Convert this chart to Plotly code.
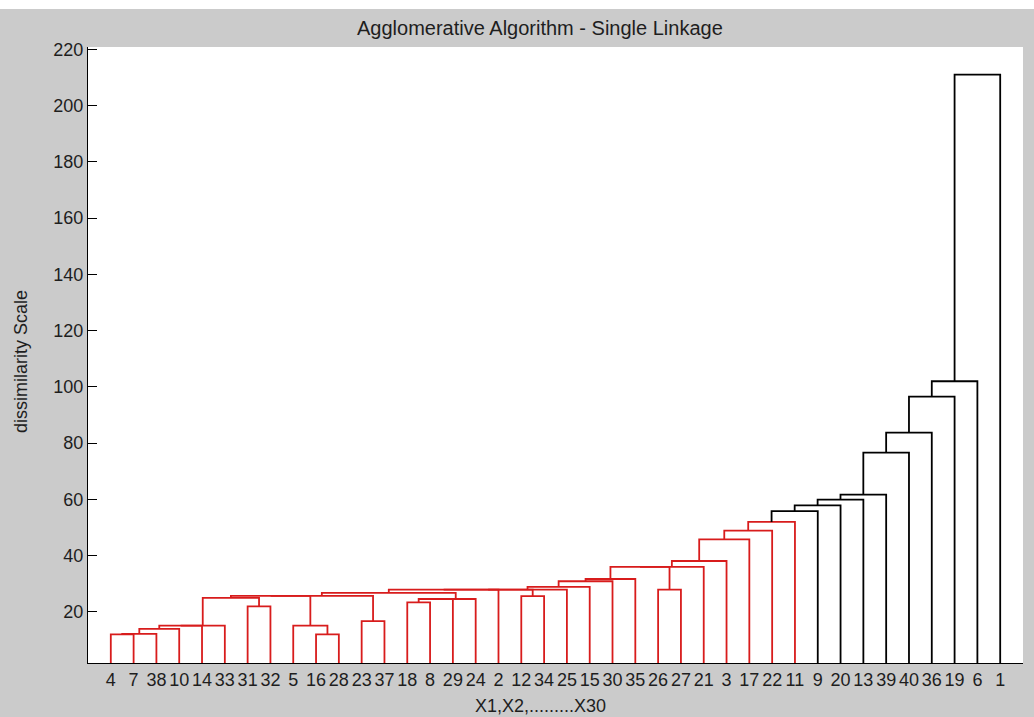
import plotly.graph_objects as go

# ---- data -------------------------------------------------------------
leaf_order = [4, 7, 38, 10, 14, 33, 31, 32, 5, 16, 28, 23, 37, 18, 8, 29, 24,
              2, 12, 34, 25, 15, 30, 35, 26, 27, 21, 3, 17, 22, 11, 9, 20, 13,
              39, 40, 36, 19, 6, 1]

# Linkage (Matlab convention): leaves are 1..40, merge k creates cluster 41+k
merge_left = [4, 41, 42, 16, 43, 45, 5, 23, 31, 18, 50, 51, 46, 53, 54, 12,
              55, 57, 58, 59, 26, 60, 62, 63, 64, 65, 66, 67, 68, 69, 70, 71,
              72, 73, 74, 75, 76, 77, 78]
merge_right = [7, 38, 10, 28, 14, 33, 44, 37, 32, 8, 29, 24, 49, 47, 48, 34,
               52, 2, 56, 25, 27, 15, 30, 35, 61, 21, 3, 17, 22, 11, 9, 20,
               13, 39, 40, 36, 19, 6, 1]
merge_height = [12.0, 12.2, 14.0, 12.0, 15.1, 15.1, 15.1, 16.7, 22.0, 23.4,
                24.6, 24.6, 25.0, 25.7, 25.7, 25.6, 26.8, 27.9, 27.9, 27.9,
                27.9, 28.9, 30.9, 31.7, 36.0, 36.0, 38.1, 45.8, 48.9, 52.0,
                55.8, 57.9, 59.9, 61.7, 76.6, 83.7, 96.5, 102.0, 211.0]
color_threshold = 53.0

y_ticks = [20, 40, 60, 80, 100, 120, 140, 160, 180, 200, 220]

# ---- geometry derived from the linkage -------------------------------
n = len(leaf_order)
pos = {lab: i + 1 for i, lab in enumerate(leaf_order)}
node_x = {lab: float(pos[lab]) for lab in leaf_order}
node_h = {lab: 0.0 for lab in leaf_order}

RED = "#d81c1c"
BLACK = "#000000"
segs = {RED: ([], []), BLACK: ([], [])}
for k, (a, b, h) in enumerate(zip(merge_left, merge_right, merge_height)):
    xa, xb = node_x[a], node_x[b]
    ha, hb = node_h[a], node_h[b]
    col = RED if h < color_threshold else BLACK
    xs, ys = segs[col]
    xs += [xa, xa, xb, xb, None]
    ys += [ha, h, h, hb, None]
    cid = n + 1 + k
    node_x[cid] = (xa + xb) / 2
    node_h[cid] = h

fig = go.Figure()
for col, (xs, ys) in segs.items():
    fig.add_trace(go.Scatter(x=xs, y=ys, mode="lines",
                             line=dict(color=col, width=1.8),
                             hoverinfo="skip", showlegend=False))

FONT = "Liberation Sans, Arial, sans-serif"
TXT = "#1e1e1e"
W, H = 1034, 717
L, R, T, B = 88, 11, 47, 54
pw, ph = W - L - R, H - T - B

def px(xp):
    return (xp - L) / pw

def py(yp):
    return (H - B - yp) / ph

fig.update_layout(
    width=W, height=H, autosize=False,
    margin=dict(l=L, r=R, t=T, b=B, pad=0),
    paper_bgcolor="#cbcbcb", plot_bgcolor="#ffffff",
    font=dict(family=FONT, size=18, color=TXT),
    xaxis=dict(range=[0, n + 1], tickmode="array",
               tickvals=list(range(1, n + 1)),
               ticktext=[str(v) for v in leaf_order],
               showgrid=False, zeroline=False, showline=True,
               linecolor="#000000", linewidth=1, ticks="",
               tickfont=dict(size=18), fixedrange=True),
    yaxis=dict(range=[1.85, 220.8], tickmode="array", tickvals=y_ticks,
               showgrid=False, zeroline=False, showline=True,
               linecolor="#000000", linewidth=1, ticks="inside",
               ticklen=9, tickcolor="#000000", tickwidth=1,
               tickfont=dict(size=18), fixedrange=True),
    annotations=[
        dict(text="Agglomerative Algorithm - Single Linkage", xref="paper",
             yref="paper", x=px(540), y=py(28), showarrow=False,
             xanchor="center", yanchor="middle",
             font=dict(size=20, family=FONT, color=TXT)),
        dict(text="X1,X2,.........X30", xref="paper", yref="paper",
             x=px(540), y=py(706), showarrow=False, xanchor="center",
             yanchor="middle", font=dict(size=18, family=FONT, color=TXT)),
        dict(text="dissimilarity Scale", xref="paper", yref="paper",
             x=px(21), y=py(362), showarrow=False, textangle=-90,
             xanchor="center", yanchor="middle",
             font=dict(size=18, family=FONT, color=TXT)),
    ],
    shapes=[
        dict(type="rect", xref="paper", yref="paper", x0=px(0), x1=px(W),
             y0=py(9), y1=py(0), fillcolor="#ffffff", line=dict(width=0),
             layer="below"),
    ],
)

fig.write_html("out.html")
